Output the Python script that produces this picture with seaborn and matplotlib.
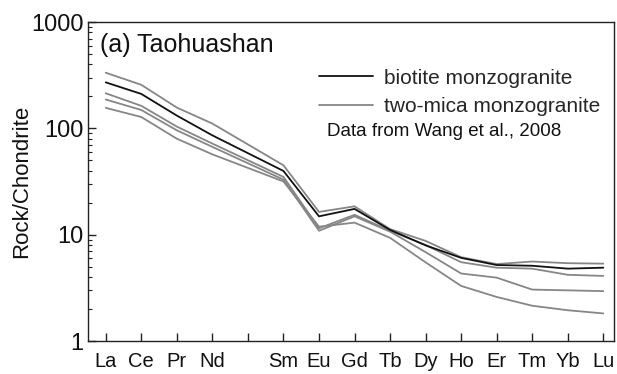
import numpy as np
import pandas as pd
import matplotlib
matplotlib.use("Agg")
import matplotlib.pyplot as plt
import seaborn as sns
from matplotlib.lines import Line2D
from matplotlib.ticker import LogLocator, NullFormatter, FixedLocator, FixedFormatter

elements = ["La", "Ce", "Pr", "Nd", "Pm", "Sm", "Eu", "Gd", "Tb", "Dy", "Ho", "Er", "Tm", "Yb", "Lu"]
plotted = ["La", "Ce", "Pr", "Nd", "Sm", "Eu", "Gd", "Tb", "Dy", "Ho", "Er", "Tm", "Yb", "Lu"]

biotite_1 = [271, 211, 132, 86, 39.8, 14.9, 17.5, 11.1, 7.95, 6.06, 5.19, 5.11, 4.8, 4.9]
twomica_1 = [334, 257, 157, 111, 45, 16.4, 18.5, 11.3, 8.75, 6.15, 5.3, 5.6, 5.4, 5.35]
twomica_2 = [214, 163, 104, 72, 35, 11.5, 15.4, 10.9, 8.0, 5.52, 4.9, 4.8, 4.2, 4.1]
twomica_3 = [187, 149, 96, 67, 33, 10.9, 14.9, 10.7, 6.86, 4.32, 3.95, 3.05, 3.0, 2.95]
twomica_4 = [156, 128, 80, 57, 31.7, 11.9, 13.0, 9.35, 5.5, 3.3, 2.6, 2.15, 1.95, 1.82]

samples = {
    "b1": biotite_1,
    "t1": twomica_1,
    "t2": twomica_2,
    "t3": twomica_3,
    "t4": twomica_4,
}
BLACK = "#111111"
GRAY = "#868686"
colors = {"b1": BLACK, "t1": GRAY, "t2": GRAY, "t3": GRAY, "t4": GRAY}

rows = []
for name, vals in samples.items():
    for el, v in zip(plotted, vals):
        rows.append({"sample": name, "pos": elements.index(el), "value": v})
df = pd.DataFrame(rows)

sns.set_style("ticks")
plt.rcParams["font.family"] = ["Liberation Sans", "DejaVu Sans"]

fig = plt.figure(figsize=(6.17, 3.74), dpi=100)
ax = fig.add_axes([0.1426, 0.088, 0.8525, 0.853])

order = ["t1", "t2", "t3", "t4", "b1"]
sns.lineplot(data=df, x="pos", y="value", hue="sample", hue_order=order,
             palette=colors, ax=ax, legend=False, linewidth=1.3, sort=False)

ax.set_yscale("log")
ax.set_ylim(1, 1000)
ax.set_xlim(-0.5, 14.3)

ax.xaxis.set_major_locator(FixedLocator(range(len(elements))))
ax.xaxis.set_major_formatter(FixedFormatter([e if e != "Pm" else "" for e in elements]))
ax.yaxis.set_major_locator(FixedLocator([1, 10, 100, 1000]))
ax.yaxis.set_major_formatter(FixedFormatter(["1", "10", "100", "1000"]))
ax.yaxis.set_minor_locator(LogLocator(base=10, subs=np.arange(2, 10)))
ax.yaxis.set_minor_formatter(NullFormatter())

ax.tick_params(axis="both", which="major", direction="in", length=6, width=1,
               color="#222222", labelcolor="#111111")
ax.tick_params(axis="x", which="major", labelsize=14.5, pad=8)
ax.tick_params(axis="y", which="major", labelsize=17, pad=3)
ax.tick_params(axis="y", which="minor", direction="in", length=3, width=0.8, color="#222222")
for s in ax.spines.values():
    s.set_color("#222222")
    s.set_linewidth(1.0)

ax.set_xlabel("")
ax.set_ylabel("Rock/Chondrite", fontsize=16, va="center", color="#111111")
ax.yaxis.set_label_coords(-0.1255, 0.5)

ax.text(0.023, 0.928, "(a) Taohuashan", transform=ax.transAxes, fontsize=18,
        ha="left", va="center", color="#111111")

handles = [Line2D([], [], color=BLACK, lw=1.3), Line2D([], [], color=GRAY, lw=1.3)]
ax.legend(handles, ["biotite monzogranite", "two-mica monzogranite"],
          loc="upper left", bbox_to_anchor=(0.42, 0.887), frameon=False, fontsize=15,
          handlelength=2.6, handletextpad=0.5, labelspacing=0.45, borderpad=0)
ax.text(0.455, 0.656, "Data from Wang et al., 2008", transform=ax.transAxes,
        fontsize=13.5, ha="left", va="center", color="#111111")

fig.savefig("out.png", dpi=100)
